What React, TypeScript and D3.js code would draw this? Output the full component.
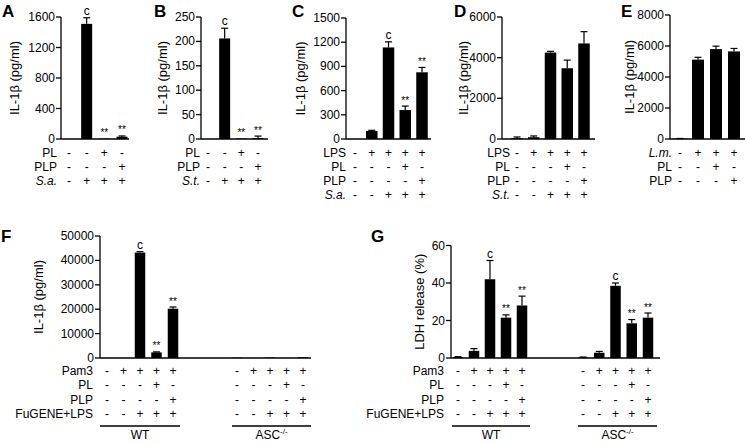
import React from "react";
import * as d3 from "d3";

const FONT = "'Liberation Sans', Arial, Helvetica, sans-serif";

// ---------- Panel A ----------
const aTicks = [0, 400, 800, 1200, 1600];
const aValues = [0, 1510, 4, 30];
const aErrors = [0, 80, 0, 10];
const aMarks = ["", "c", "**", "**"];
const aRowLabels = ["PL", "PLP", "S.a."];
const aRowSigns = [
  ["-", "-", "+", "-"],
  ["-", "-", "-", "+"],
  ["-", "+", "+", "+"],
];

// ---------- Panel B ----------
const bTicks = [0, 50, 100, 150, 200, 250];
const bValues = [0, 206, 1, 2];
const bErrors = [0, 21, 0, 4];
const bMarks = ["", "c", "**", "**"];
const bRowLabels = ["PL", "PLP", "S.t."];
const bRowSigns = [
  ["-", "-", "+", "-"],
  ["-", "-", "-", "+"],
  ["-", "+", "+", "+"],
];

// ---------- Panel C ----------
const cTicks = [0, 300, 600, 900, 1200, 1500];
const cValues = [0, 100, 1135, 360, 827];
const cErrors = [0, 8, 70, 48, 60];
const cMarks = ["", "", "c", "**", "**"];
const cRowLabels = ["LPS", "PL", "PLP", "S.a."];
const cRowSigns = [
  ["-", "+", "+", "+", "+"],
  ["-", "-", "-", "+", "-"],
  ["-", "-", "-", "-", "+"],
  ["-", "-", "+", "+", "+"],
];

// ---------- Panel D ----------
const dTicks = [0, 2000, 4000, 6000];
const dValues = [40, 90, 4250, 3480, 4700];
const dErrors = [60, 60, 60, 400, 580];
const dMarks = ["", "", "", "", ""];
const dRowLabels = ["LPS", "PL", "PLP", "S.t."];
const dRowSigns = [
  ["-", "+", "+", "+", "+"],
  ["-", "-", "-", "+", "-"],
  ["-", "-", "-", "-", "+"],
  ["-", "-", "+", "+", "+"],
];

// ---------- Panel E ----------
const eTicks = [0, 2000, 4000, 6000, 8000];
const eValues = [25, 5120, 5800, 5650];
const eErrors = [10, 150, 190, 190];
const eMarks = ["", "", "", ""];
const eRowLabels = ["L.m.", "PL", "PLP"];
const eRowSigns = [
  ["-", "+", "+", "+"],
  ["-", "-", "+", "-"],
  ["-", "-", "-", "+"],
];

// ---------- Panel F ----------
const fTicks = [0, 10000, 20000, 30000, 40000, 50000];
const fWtValues = [30, 30, 43200, 2300, 20200];
const fWtErrors = [0, 0, 400, 200, 700];
const fWtMarks = ["", "", "c", "**", "**"];
const fAscValues = [150, 30, 200, 40, 300];
const fAscErrors = [0, 0, 0, 0, 0];
const fAscMarks = ["", "", "", "", ""];

// ---------- Panel G ----------
const gTicks = [0, 20, 40, 60];
const gWtValues = [0.5, 3.8, 42, 21.5, 28];
const gWtErrors = [0.2, 1.2, 10, 1.5, 5];
const gWtMarks = ["", "", "c", "**", "**"];
const gAscValues = [0.3, 2.8, 38.5, 18.5, 21.5];
const gAscErrors = [0.2, 0.7, 1.5, 2, 2.5];
const gAscMarks = ["", "", "c", "**", "**"];

// shared rows for F and G
const fgRowLabels = ["Pam3", "PL", "PLP", "FuGENE+LPS"];
const fgRowSigns = [
  ["-", "+", "+", "+", "+"],
  ["-", "-", "-", "+", "-"],
  ["-", "-", "-", "-", "+"],
  ["-", "-", "+", "+", "+"],
];
const groupNames = ["WT", "ASC"];

type Group = {
  cols: [number, number];
  values: number[];
  errors: number[];
  marks: string[];
  signs: string[][];
  label?: string;
  line?: [number, number];
};

type PanelProps = {
  letter: string;
  letterX: number;
  letterY: number;
  yLabel: string;
  yLabelX: number;
  yTop: number;
  yBottom: number;
  ticks: number[];
  axisX: number;
  axisEnd: number;
  barW: number;
  groups: Group[];
  rowLabels: string[];
  italicRow: number;
  rowYs: number[];
  labelRight: number;
  lineY?: number;
  groupLabelY?: number;
};

function Panel(p: PanelProps) {
  const yMax = p.ticks[p.ticks.length - 1];
  const y = d3.scaleLinear().domain([0, yMax]).range([p.yBottom, p.yTop]);
  const capW = 7;
  return (
    <g>
      <text x={p.letterX} y={p.letterY} fontSize={17} fontWeight="bold" fontFamily={FONT}>
        {p.letter}
      </text>
      <text
        transform={`translate(${p.yLabelX},${(p.yTop + p.yBottom) / 2}) rotate(-90)`}
        textAnchor="middle"
        dominantBaseline="central"
        fontSize={13}
        fontFamily={FONT}
      >
        {p.yLabel}
      </text>
      {/* y axis */}
      <line x1={p.axisX} x2={p.axisX} y1={p.yTop} y2={p.yBottom} stroke="#000" strokeWidth={1.3} />
      {p.ticks.map((t) => (
        <g key={t}>
          <line x1={p.axisX - 5} x2={p.axisX} y1={y(t)} y2={y(t)} stroke="#000" strokeWidth={1.3} />
          <text x={p.axisX - 6} y={y(t) + 4} textAnchor="end" fontSize={12} fontFamily={FONT}>
            {t}
          </text>
        </g>
      ))}
      {/* x axis */}
      <line x1={p.axisX} x2={p.axisEnd} y1={p.yBottom} y2={p.yBottom} stroke="#000" strokeWidth={1.3} />
      {/* row labels */}
      {p.rowLabels.map((l, r) => (
        <text
          key={l}
          x={p.labelRight}
          y={p.rowYs[r] + 4.3}
          textAnchor="end"
          fontSize={12}
          fontStyle={r === p.italicRow ? "italic" : "normal"}
          fontFamily={FONT}
        >
          {l}
        </text>
      ))}
      {p.groups.map((g, gi) => {
        const x = d3.scaleLinear().domain([0, g.values.length - 1]).range(g.cols);
        return (
          <g key={gi}>
            {g.values.map((v, i) => {
              const cx = x(i);
              const top = y(v);
              const et = y(v + g.errors[i]);
              return (
                <g key={i}>
                  <rect x={cx - p.barW / 2} y={top} width={p.barW} height={p.yBottom - top} fill="#000" />
                  {g.errors[i] > 0 && (
                    <g stroke="#000" strokeWidth={1.2}>
                      <line x1={cx} x2={cx} y1={top} y2={et} />
                      <line x1={cx - capW / 2} x2={cx + capW / 2} y1={et} y2={et} />
                    </g>
                  )}
                  {g.marks[i] && (
                    <text
                      x={cx}
                      y={et - (g.marks[i] === "c" ? 3 : 2.5)}
                      textAnchor="middle"
                      fontSize={g.marks[i] === "c" ? 12 : 10}
                      fontFamily={FONT}
                      fill="#000"
                    >
                      {g.marks[i]}
                    </text>
                  )}
                </g>
              );
            })}
            {g.signs.map((row, r) =>
              row.map((s, i) => (
                <text
                  key={`${r}-${i}`}
                  x={x(i)}
                  y={p.rowYs[r] + 4.3}
                  textAnchor="middle"
                  fontSize={12}
                  fontFamily={FONT}
                >
                  {s}
                </text>
              ))
            )}
            {g.line && p.lineY !== undefined && (
              <line x1={g.line[0]} x2={g.line[1]} y1={p.lineY} y2={p.lineY} stroke="#000" strokeWidth={1.3} />
            )}
            {g.label && g.line && p.groupLabelY !== undefined && (
              <text
                x={(g.line[0] + g.line[1]) / 2}
                y={p.groupLabelY}
                textAnchor="middle"
                fontSize={12}
                fontFamily={FONT}
              >
                {g.label === "ASC" ? (
                  <>
                    ASC
                    <tspan fontSize={8} dy={-5}>
                      -/-
                    </tspan>
                  </>
                ) : (
                  g.label
                )}
              </text>
            )}
          </g>
        );
      })}
    </g>
  );
}

const row1Ys3 = [153, 167, 181];
const row1Ys4 = [153, 167, 181, 195];
const row2Ys = [370.5, 385, 400, 414];

export default function App() {
  return (
    <svg
      width={745}
      height={443}
      style={{ position: "absolute", left: 0, top: 0, background: "#fff" }}
    >
      <Panel
        letter="A" letterX={2} letterY={17} yLabel="IL-1β (pg/ml)" yLabelX={14}
        yTop={17} yBottom={139} ticks={aTicks} axisX={61} axisEnd={129} barW={11}
        groups={[{ cols: [69, 122], values: aValues, errors: aErrors, marks: aMarks, signs: aRowSigns }]}
        rowLabels={aRowLabels} italicRow={2} rowYs={row1Ys3} labelRight={57}
      />
      <Panel
        letter="B" letterX={154} letterY={17} yLabel="IL-1β (pg/ml)" yLabelX={162}
        yTop={17} yBottom={139} ticks={bTicks} axisX={201} axisEnd={268} barW={11}
        groups={[{ cols: [208, 258], values: bValues, errors: bErrors, marks: bMarks, signs: bRowSigns }]}
        rowLabels={bRowLabels} italicRow={2} rowYs={row1Ys3} labelRight={200}
      />
      <Panel
        letter="C" letterX={292} letterY={17} yLabel="IL-1β (pg/ml)" yLabelX={300}
        yTop={18} yBottom={139} ticks={cTicks} axisX={346} axisEnd={431} barW={11.5}
        groups={[{ cols: [355, 422], values: cValues, errors: cErrors, marks: cMarks, signs: cRowSigns }]}
        rowLabels={cRowLabels} italicRow={3} rowYs={row1Ys4} labelRight={346}
      />
      <Panel
        letter="D" letterX={454} letterY={17} yLabel="IL-1β (pg/ml)" yLabelX={463}
        yTop={17} yBottom={139} ticks={dTicks} axisX={502} axisEnd={595} barW={11.5}
        groups={[{ cols: [517, 584], values: dValues, errors: dErrors, marks: dMarks, signs: dRowSigns }]}
        rowLabels={dRowLabels} italicRow={3} rowYs={row1Ys4} labelRight={510}
      />
      <Panel
        letter="E" letterX={621} letterY={17} yLabel="IL-1β (pg/ml)" yLabelX={629}
        yTop={15} yBottom={139} ticks={eTicks} axisX={670} axisEnd={745} barW={12}
        groups={[{ cols: [680, 734], values: eValues, errors: eErrors, marks: eMarks, signs: eRowSigns }]}
        rowLabels={eRowLabels} italicRow={0} rowYs={row1Ys3} labelRight={672}
      />
      <Panel
        letter="F" letterX={1} letterY={242} yLabel="IL-1β (pg/ml)" yLabelX={38}
        yTop={236} yBottom={358} ticks={fTicks} axisX={100} axisEnd={311} barW={10.5}
        groups={[
          { cols: [107, 173], values: fWtValues, errors: fWtErrors, marks: fWtMarks, signs: fgRowSigns, label: groupNames[0], line: [100, 180] },
          { cols: [237, 303], values: fAscValues, errors: fAscErrors, marks: fAscMarks, signs: fgRowSigns, label: groupNames[1], line: [232, 311] },
        ]}
        rowLabels={fgRowLabels} italicRow={-1} rowYs={row2Ys} labelRight={93}
        lineY={426} groupLabelY={439}
      />
      <Panel
        letter="G" letterX={371} letterY={242} yLabel="LDH release (%)" yLabelX={419}
        yTop={245.5} yBottom={358} ticks={gTicks} axisX={451} axisEnd={660} barW={10.5}
        groups={[
          { cols: [458, 522], values: gWtValues, errors: gWtErrors, marks: gWtMarks, signs: fgRowSigns, label: groupNames[0], line: [452, 530] },
          { cols: [583, 648], values: gAscValues, errors: gAscErrors, marks: gAscMarks, signs: fgRowSigns, label: groupNames[1], line: [578, 657] },
        ]}
        rowLabels={fgRowLabels} italicRow={-1} rowYs={row2Ys} labelRight={444}
        lineY={426} groupLabelY={439}
      />
    </svg>
  );
}
